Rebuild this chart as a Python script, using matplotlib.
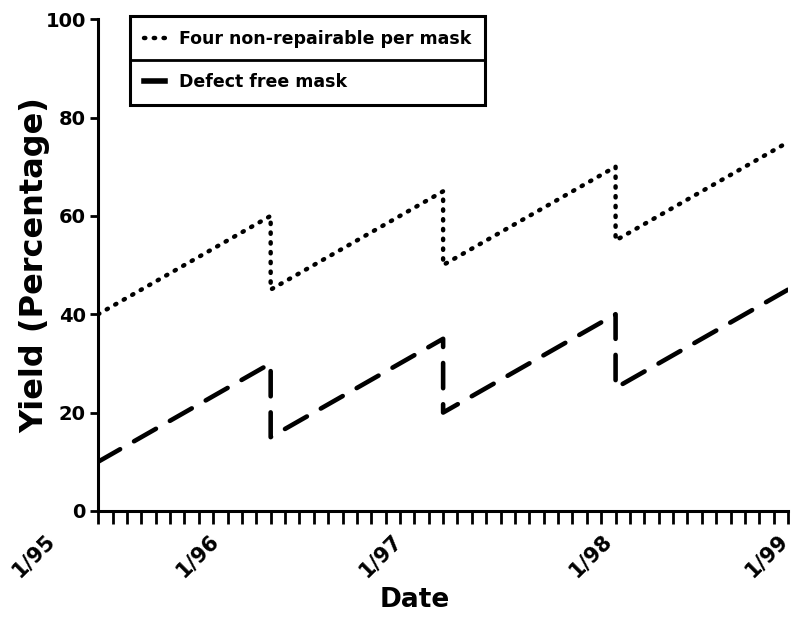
import matplotlib
matplotlib.use("Agg")
import matplotlib.pyplot as plt
import matplotlib.transforms as mtransforms
from matplotlib.lines import Line2D

# months since 1/95; each year the yield ramps up, then drops at a new mask
months = [0, 12, 12, 24, 24, 36, 36, 48]
four_nonrepairable = [40, 60, 45, 65, 50, 70, 55, 75]
defect_free = [10, 30, 15, 35, 20, 40, 25, 45]
year_labels = ["1/95", "1/96", "1/97", "1/98", "1/99"]
year_ticks = [0, 12, 24, 36, 48]

plt.rcParams['font.family'] = ['DejaVu Sans']
plt.rcParams['font.weight'] = 'bold'

fig = plt.figure(figsize=(7.92, 6.2), dpi=100)
ax = fig.add_axes([0.124, 0.176, 0.871, 0.793])

dotted = (0, (0.3, 1.9))
dashed = (0, (5.5, 3.5))
ax.plot(months, four_nonrepairable, color='black', lw=3.2, linestyle=dotted,
        dash_capstyle='round')
ax.plot(months, defect_free, color='black', lw=3.3, linestyle=dashed,
        dash_capstyle='round')

ax.set_xlim(0, 48)
ax.set_ylim(0, 100)
ax.spines['top'].set_visible(False)
ax.spines['right'].set_visible(False)
for s in ['left', 'bottom']:
    ax.spines[s].set_linewidth(2.2)

ax.set_xticks(year_ticks)
ax.set_xticklabels(year_labels, rotation=45, ha='right', rotation_mode='anchor')
ax.set_xticks(range(0, 49), minor=True)
ax.tick_params(axis='x', which='both', direction='out', length=9, width=2, labelsize=15, pad=5)
# the labels sit a bit left of their ticks in the original
label_shift_px = [-54, -62, -52, -14, -10]
for lbl, dx in zip(ax.get_xticklabels(), label_shift_px):
    lbl.set_transform(lbl.get_transform() +
                      mtransforms.ScaledTranslation(dx / 100, 0, fig.dpi_scale_trans))
ax.set_yticks([0, 20, 40, 60, 80, 100])
ax.tick_params(axis='y', direction='out', length=6, width=2, labelsize=14, pad=3)

ax.set_xlabel("Date", fontsize=19, fontweight='bold')
ax.xaxis.set_label_coords(0.459, -0.155)
ax.set_ylabel("Yield (Percentage)", fontsize=23, fontweight='bold')
ax.yaxis.set_label_coords(-0.07, 0.5)

handles = [
    Line2D([], [], color='black', lw=3.2, linestyle=dotted, dash_capstyle='round'),
    Line2D([], [], color='black', lw=4, linestyle='-'),
]
leg = ax.legend(handles, ["Four non-repairable per mask", "Defect free mask"],
                loc='upper left', bbox_to_anchor=(130 / 792, 1 - 16 / 620),
                bbox_transform=fig.transFigure, borderaxespad=0, fontsize=12.5,
                handlelength=1.2, handletextpad=0.8, frameon=True, fancybox=False,
                edgecolor='black', labelspacing=1.45, borderpad=0.8)
leg.get_frame().set_linewidth(2.2)
leg.get_frame().set_alpha(None)

# row separator inside the legend box
fig.canvas.draw()
bb = leg.get_frame().get_window_extent().transformed(fig.transFigure.inverted())
ymid = (bb.y0 + bb.y1) / 2
fig.add_artist(Line2D([bb.x0, bb.x1], [ymid, ymid], transform=fig.transFigure,
                      color='black', lw=2))

fig.savefig("out.png", dpi=100)
